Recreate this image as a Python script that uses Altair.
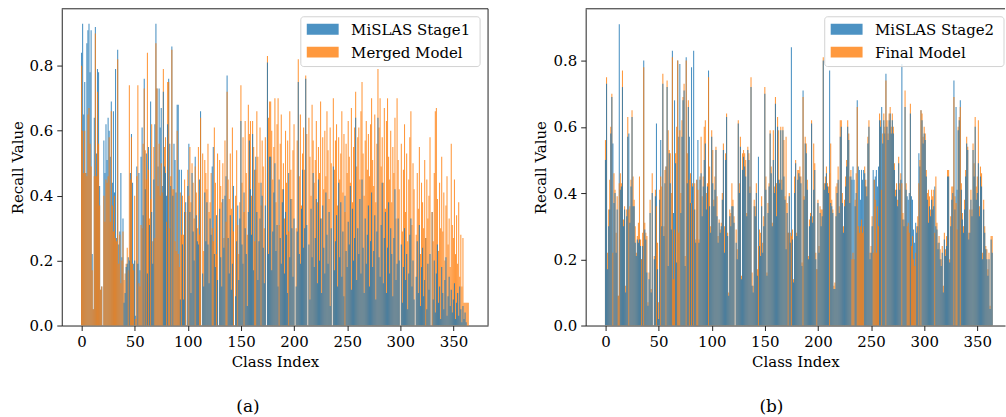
import altair as alt
import pandas as pd

# Per-class recall, in percent, for 365 classes (index 0..364).
# Panel (a): MiSLAS stage-1 model vs. merged model.
stage1 = [
    84, 93, 65, 75, 47, 87, 91, 93, 78, 91,
    22, 5, 64, 92, 53, 79, 78, 43, 11, 12,
    0, 57, 47, 62, 51, 64, 60, 52, 69, 44,
    66, 41, 79, 27, 85, 25, 29, 47, 21, 33,
    7, 10, 18, 19, 21, 20, 47, 59, 44, 19,
    20, 3, 49, 19, 47, 17, 52, 61, 34, 76,
    42, 53, 16, 55, 31, 69, 35, 19, 45, 62,
    93, 73, 49, 73, 61, 67, 43, 72, 49, 47,
    40, 62, 76, 56, 43, 86, 40, 56, 51, 41,
    68, 68, 48, 8, 48, 25, 8, 35, 38, 0,
    43, 56, 35, 10, 47, 29, 20, 52, 34, 26,
    25, 45, 66, 0, 16, 12, 41, 26, 38, 25,
    13, 33, 28, 49, 55, 22, 18, 34, 14, 0,
    36, 21, 12, 39, 24, 40, 46, 77, 27, 16,
    34, 11, 19, 43, 0, 9, 26, 37, 14, 33,
    63, 25, 19, 41, 30, 22, 6, 35, 57, 42,
    28, 59, 17, 48, 52, 35, 14, 26, 33, 44,
    40, 24, 13, 37, 0, 81, 22, 52, 52, 17,
    29, 41, 50, 23, 31, 12, 45, 27, 19, 38,
    42, 16, 35, 28, 10, 47, 21, 39, 30, 15,
    33, 0, 12, 29, 75, 22, 19, 36, 48, 24,
    30, 76, 31, 0, 25, 8, 36, 21, 47, 18,
    27, 39, 13, 45, 20, 33, 10, 37, 24, 16,
    41, 28, 19, 35, 6, 30, 0, 49, 17, 26,
    34, 12, 44, 21, 38, 15, 29, 9, 40, 23,
    18, 32, 25, 43, 11, 36, 20, 27, 64, 14,
    30, 22, 39, 16, 45, 24, 10, 33, 19, 28,
    37, 12, 26, 41, 18, 23, 34, 8, 29, 64,
    21, 15, 31, 44, 13, 27, 35, 10, 24, 38,
    16, 30, 22, 9, 27, 42, 14, 19, 33, 20,
    0, 25, 7, 18, 30, 14, 22, 5, 16, 28,
    33, 12, 20, 8, 0, 15, 26, 10, 31, 6,
    18, 24, 9, 14, 27, 5, 19, 11, 22, 0,
    35, 8, 20, 4, 16, 25, 7, 12, 2, 18,
    10, 5, 14, 21, 3, 9, 15, 6, 11, 4,
    8, 13, 2, 7, 10, 3, 12, 5, 1, 6,
    2, 4, 1, 0, 0,
]
merged = [
    80, 60, 47, 60, 47, 46, 65, 67, 56, 49,
    17, 5, 46, 90, 46, 72, 56, 37, 11, 12,
    0, 40, 32, 45, 44, 46, 58, 32, 66, 37,
    29, 40, 27, 26, 82, 19, 28, 13, 20, 29,
    14, 16, 19, 24, 17, 74, 45, 58, 19, 17,
    40, 2, 46, 74, 13, 12, 31, 30, 56, 73,
    54, 45, 84, 48, 33, 39, 62, 26, 55, 27,
    87, 73, 43, 56, 40, 50, 41, 79, 55, 58,
    32, 75, 75, 30, 46, 85, 42, 42, 26, 23,
    60, 22, 18, 41, 28, 40, 28, 45, 35, 0,
    48, 40, 55, 38, 50, 44, 33, 49, 41, 30,
    55, 28, 64, 0, 53, 23, 51, 47, 42, 56,
    35, 38, 47, 30, 26, 61, 44, 22, 53, 0,
    51, 43, 38, 50, 27, 57, 32, 72, 45, 39,
    53, 36, 61, 29, 0, 40, 54, 31, 22, 38,
    74, 44, 58, 35, 63, 47, 28, 68, 59, 63,
    40, 63, 55, 26, 48, 66, 52, 44, 61, 37,
    57, 49, 30, 58, 0, 83, 64, 69, 69, 60,
    45, 55, 70, 38, 62, 70, 31, 56, 65, 42,
    50, 33, 60, 44, 57, 29, 66, 48, 39, 54,
    62, 0, 30, 57, 82, 46, 65, 37, 53, 61,
    48, 77, 59, 0, 64, 52, 40, 68, 57, 44,
    51, 63, 38, 55, 47, 69, 33, 58, 42, 60,
    46, 66, 54, 39, 61, 50, 0, 70, 48, 57,
    62, 37, 58, 45, 53, 66, 41, 59, 35, 56,
    47, 63, 52, 44, 67, 38, 55, 61, 72, 49,
    58, 61, 45, 66, 75, 53, 40, 57, 63, 48,
    59, 46, 62, 70, 51, 43, 65, 38, 56, 79,
    61, 70, 49, 58, 44, 67, 36, 63, 70, 52,
    45, 60, 38, 55, 47, 64, 33, 70, 51, 42,
    0, 56, 29, 48, 62, 35, 53, 26, 45, 58,
    66, 31, 50, 42, 0, 28, 47, 36, 55, 22,
    44, 38, 30, 51, 27, 45, 33, 40, 58, 0,
    35, 26, 47, 66, 67, 39, 23, 44, 30, 52,
    29, 41, 20, 37, 46, 25, 33, 18, 56, 31,
    27, 45, 22, 34, 19, 38, 15, 28, 12, 27,
    7, 7, 7, 7, 7,
]

# Panel (b): MiSLAS stage-2 model vs. final model.
stage2 = [
    50, 73, 17, 30, 35, 58, 69, 55, 37, 40,
    22, 35, 9, 91, 41, 42, 72, 30, 35, 10,
    33, 57, 58, 31, 42, 63, 36, 36, 25, 21,
    26, 25, 26, 24, 20, 24, 80, 29, 26, 16,
    6, 14, 34, 10, 40, 0, 20, 39, 61, 17,
    2, 38, 56, 30, 73, 27, 43, 48, 72, 18,
    52, 43, 29, 83, 34, 68, 49, 19, 80, 57,
    79, 34, 57, 68, 71, 18, 81, 43, 66, 57,
    37, 78, 42, 83, 35, 25, 44, 56, 25, 44,
    46, 33, 42, 50, 55, 35, 42, 77, 36, 28,
    57, 43, 36, 41, 53, 33, 25, 31, 28, 30,
    38, 53, 22, 50, 63, 27, 9, 33, 30, 36,
    36, 31, 0, 25, 20, 61, 40, 54, 14, 47,
    51, 48, 45, 33, 53, 50, 40, 72, 12, 10,
    36, 33, 40, 15, 51, 24, 21, 36, 22, 30,
    70, 41, 15, 34, 42, 58, 46, 30, 50, 40,
    67, 33, 60, 44, 43, 59, 41, 59, 45, 38,
    23, 34, 28, 39, 25, 84, 26, 13, 40, 49,
    27, 44, 46, 45, 43, 18, 71, 38, 55, 52,
    41, 20, 30, 33, 61, 31, 41, 47, 20, 17,
    37, 22, 34, 30, 33, 80, 41, 43, 46, 42,
    40, 77, 37, 36, 34, 11, 11, 33, 40, 44,
    34, 57, 60, 37, 28, 36, 42, 48, 60, 56,
    37, 45, 44, 48, 44, 36, 40, 68, 48, 47,
    38, 47, 44, 47, 46, 42, 39, 55, 60, 20,
    22, 30, 47, 44, 45, 47, 42, 48, 62, 60,
    66, 55, 62, 58, 76, 60, 56, 62, 64, 58,
    62, 58, 47, 39, 41, 36, 49, 41, 44, 79,
    32, 30, 66, 41, 39, 38, 40, 64, 39, 38,
    29, 25, 31, 28, 30, 52, 48, 65, 62, 55,
    58, 56, 45, 38, 31, 36, 33, 38, 35, 36,
    42, 30, 29, 23, 25, 20, 18, 22, 10, 26,
    21, 24, 45, 45, 19, 30, 38, 40, 74, 35,
    66, 41, 59, 62, 68, 41, 32, 28, 35, 45,
    55, 53, 26, 28, 38, 33, 53, 45, 60, 38,
    40, 49, 33, 45, 42, 20, 35, 28, 23, 20,
    15, 20, 5, 26, 22,
]
final = [
    56, 75, 22, 35, 44, 60, 70, 22, 46, 41,
    28, 39, 9, 43, 46, 43, 77, 32, 36, 12,
    35, 63, 35, 36, 44, 65, 45, 38, 30, 22,
    27, 31, 45, 26, 20, 28, 78, 31, 28, 27,
    7, 16, 38, 11, 46, 0, 21, 41, 36, 25,
    7, 41, 45, 42, 76, 30, 47, 48, 74, 59,
    53, 52, 40, 81, 14, 29, 52, 60, 80, 28,
    59, 40, 62, 69, 73, 21, 80, 52, 68, 44,
    46, 37, 43, 35, 43, 26, 44, 41, 26, 45,
    57, 39, 45, 60, 62, 40, 43, 75, 48, 30,
    59, 53, 38, 45, 54, 39, 27, 32, 29, 31,
    40, 55, 30, 52, 64, 28, 10, 35, 34, 43,
    38, 33, 0, 29, 23, 62, 43, 57, 15, 52,
    53, 52, 50, 34, 54, 52, 42, 75, 16, 12,
    38, 36, 43, 17, 24, 29, 28, 39, 25, 33,
    72, 45, 16, 37, 43, 59, 48, 31, 59, 42,
    69, 43, 63, 59, 44, 60, 44, 60, 56, 39,
    57, 37, 28, 40, 28, 27, 29, 14, 45, 50,
    28, 47, 47, 48, 45, 19, 69, 39, 57, 55,
    44, 21, 32, 34, 62, 33, 55, 49, 22, 17,
    38, 24, 36, 35, 35, 81, 43, 45, 48, 43,
    42, 46, 55, 38, 35, 12, 13, 42, 43, 48,
    36, 62, 62, 40, 30, 38, 45, 50, 62, 58,
    45, 47, 20, 22, 20, 38, 46, 66, 30, 28,
    30, 32, 28, 30, 48, 44, 42, 57, 62, 22,
    24, 33, 22, 44, 38, 22, 36, 30, 64, 62,
    41, 58, 64, 60, 74, 62, 58, 64, 66, 60,
    64, 60, 49, 41, 43, 38, 51, 43, 46, 43,
    34, 32, 71, 43, 30, 31, 28, 67, 24, 27,
    20, 18, 22, 30, 33, 43, 50, 65, 64, 57,
    60, 58, 47, 40, 41, 39, 35, 41, 39, 41,
    28, 45, 31, 25, 27, 23, 20, 24, 12, 28,
    23, 27, 47, 47, 20, 33, 42, 42, 69, 39,
    37, 29, 60, 63, 66, 43, 34, 30, 38, 47,
    57, 54, 28, 35, 41, 35, 55, 49, 63, 42,
    45, 62, 36, 48, 46, 22, 38, 30, 24, 23,
    17, 22, 6, 27, 27,
]

names_a = ["MiSLAS Stage1", "Merged Model"]
names_b = ["MiSLAS Stage2", "Final Model"]
tick_values = [0, 50, 100, 150, 200, 250, 300, 350]
colors = ["#1f77b4", "#ff7f0e"]

FONT = "DejaVu Serif"
PLOT_H = 318
BAR_HALF = 0.5          # neighbouring bars just touch, as on a 1-px raster
X_MIN = -18.64          # 5% margin around the bar extent
X_MAX_FULL = 382.64


def bar_table(first, second, names):
    """One row per bar; the taller bar of each class is drawn first (layer 0)."""
    rows = []
    for i, (a, b) in enumerate(zip(first, second)):
        va, vb = a / 100.0, b / 100.0
        tall_first = va >= vb
        rows.append(dict(cls=i, x0=i - BAR_HALF, x1=i + BAR_HALF,
                         series=names[0], value=va, layer=0 if tall_first else 1))
        rows.append(dict(cls=i, x0=i - BAR_HALF, x1=i + BAR_HALF,
                         series=names[1], value=vb, layer=1 if tall_first else 0))
    return pd.DataFrame(rows)


def legend_layers(names):
    one = pd.DataFrame({"k": [0]})
    frame = alt.Chart(one).mark_rect(
        cornerRadius=3, fill="white", fillOpacity=0.8,
        stroke="#d2d2d2", strokeWidth=1,
    ).encode(x=alt.value(240), x2=alt.value(420), y=alt.value(8), y2=alt.value(58))
    parts = [frame]
    for row, (name, col) in enumerate(zip(names, colors)):
        yc = 20.5 + 23 * row
        parts.append(
            alt.Chart(one).mark_rect(color=col, opacity=0.8).encode(
                x=alt.value(246), x2=alt.value(278),
                y=alt.value(yc - 5.5), y2=alt.value(yc + 5.5),
            )
        )
        parts.append(
            alt.Chart(one).mark_text(
                text=name, font=FONT, fontSize=15, align="left",
                baseline="middle", color="black",
            ).encode(x=alt.value(290.5), y=alt.value(yc + 0.5))
        )
    return parts


def panel(first, second, names, width, x_max, y_max, caption, cap_dx, right_spine):
    df = bar_table(first, second, names)
    xs = alt.Scale(domain=[X_MIN, x_max], nice=False, zero=False)
    ys = alt.Scale(domain=[0, y_max], nice=False, zero=False)
    color = alt.Color(
        "series:N",
        scale=alt.Scale(domain=names, range=colors),
        legend=None,
    )
    x_axis = alt.Axis(values=tick_values, title="Class Index", grid=False)
    y_axis = alt.Axis(values=[0, 0.2, 0.4, 0.6, 0.8], format=".1f",
                      title="Recall Value", grid=False)

    def bars(layer):
        return (
            alt.Chart(df)
            .transform_filter(f"datum.layer == {layer}")
            .mark_bar(opacity=0.8)
            .encode(
                x=alt.X("x0:Q", scale=xs, axis=x_axis),
                x2="x1:Q",
                y=alt.Y("value:Q", scale=ys, axis=y_axis, stack=None),
                y2=alt.datum(0),
                color=color,
            )
        )

    spine = pd.DataFrame({"k": [0]})
    top = alt.Chart(spine).mark_rule(color="#222", strokeWidth=1).encode(
        x=alt.value(0), x2=alt.value(width), y=alt.value(0)
    )
    layers = [bars(0), bars(1), top]
    if right_spine:
        layers.append(
            alt.Chart(spine).mark_rule(color="#222", strokeWidth=1).encode(
                x=alt.value(width), y=alt.value(0), y2=alt.value(PLOT_H)
            )
        )
    layers += legend_layers(names)
    return alt.layer(*layers).properties(
        width=width,
        height=PLOT_H,
        title=alt.TitleParams(
            caption, orient="bottom", anchor="middle", frame="group",
            dx=cap_dx, offset=30, font=FONT, fontSize=17,
            fontWeight="normal", color="black",
        ),
    )


left = panel(stage1, merged, names_a, 428, X_MAX_FULL, 0.9758, "(a)", -27, True)
# the right-hand axes run past the page edge, so only part of the range is shown
right = panel(stage2, final, names_b, 421, X_MIN + 421 * (X_MAX_FULL - X_MIN) / 428,
              0.9564, "(b)", -24, False)

chart = (
    alt.hconcat(left, right, spacing=45)
    .resolve_scale(x="independent", y="independent", color="independent")
    .properties(padding={"left": 10, "top": 7, "right": 0, "bottom": 0})
    .configure_view(stroke=None)
    .configure_axis(
        labelFont=FONT, labelFontSize=15, labelColor="black",
        titleFont=FONT, titleFontSize=15, titleFontWeight="normal", titleColor="black",
        tickColor="#222", tickSize=5, tickWidth=1,
        domainColor="#222", domainWidth=1,
        labelPadding=4, titlePadding=5,
    )
    .configure_axisY(titlePadding=4)
)

chart.save("out.html", embed_options={"renderer": "svg", "actions": False})
